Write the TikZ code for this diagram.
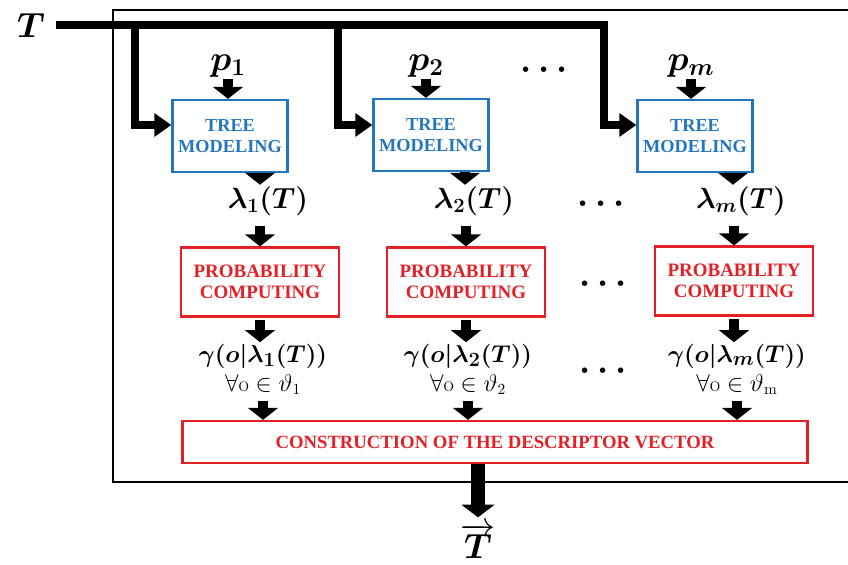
\documentclass[tikz,border=0pt]{standalone}
\usepackage{bm}
\usepackage{fontspec}
\newfontfamily\boxfont{Liberation Serif}
\usetikzlibrary{arrows.meta,positioning}

\definecolor{treeBlue}{RGB}{35,118,190}
\definecolor{probRed}{RGB}{228,32,38}

\newcommand{\setfs}[1]{\fontsize{#1}{#1}\selectfont}

\tikzstyle{treeBlock} = [rectangle, draw=treeBlue, line width=1.6pt, text=treeBlue, align=center,
minimum width=2.875cm, minimum height=1.8cm, font={\boxfont\bfseries\fontsize{13}{14.5}\selectfont}]
\tikzstyle{probBlock} = [rectangle, draw=probRed, line width=1.6pt, text=probRed, align=center,
minimum width=3.95cm, minimum height=1.725cm, font={\boxfont\bfseries\fontsize{13.5}{14.5}\selectfont}]
\tikzstyle{vecBlock} = [probBlock, minimum width=15.625cm, minimum height=1.05cm,
font={\boxfont\bfseries\fontsize{13.3}{14.5}\selectfont}]
\tikzstyle{mathLbl} = [inner sep=1pt]
\tikzstyle{flow} = [draw, line width=7pt, -{Triangle[width=21pt,length=8.5pt]}]
\tikzstyle{feed} = [draw, line width=5.5pt, line join=miter, -{Triangle[width=16pt,length=12pt]}]
\tikzstyle{outFlow} = [draw, line width=10pt, -{Triangle[width=23pt,length=9pt]}]
\tikzstyle{frame} = [draw, line width=2pt]

\begin{document}
\begin{tikzpicture}[x=0.025cm, y=-0.025cm]
   \useasboundingbox (0,0) rectangle (848,565);

   % Outer frame
   \draw[frame] (848,10) -- (113,10) -- (113,482) -- (848,482);

   % Input tree
   \node[mathLbl, font=\setfs{29}] (T) at (31,25) {$\bm{T}$};

   % Tree modeling blocks
   \node[treeBlock] (tree1) at (230,136) {TREE\\MODELING};
   \node[treeBlock] (tree2) at (431,135) {TREE\\MODELING};
   \node[treeBlock] (treem) at (695,136) {TREE\\MODELING};

   % Parameters
   \node[mathLbl, font=\setfs{26}] (p1) at (228,66) {$\bm{p_1}$};
   \node[mathLbl, font=\setfs{26}] (p2) at (426,66) {$\bm{p_2}$};
   \node[mathLbl, font=\setfs{26}] (pm) at (691,66) {$\bm{p_m}$};
   \node[mathLbl, font=\setfs{24}] (dotsP) at (544,70) {$\bm{\cdots}$};

   % Column axes
   \coordinate (c1) at (260,0);
   \coordinate (c2) at (465,0);
   \coordinate (cm) at (733,0);

   % Models
   \node[mathLbl, font=\setfs{20}] (lam1) at (268,201) {$\bm{\lambda_1(T)}$};
   \node[mathLbl, font=\setfs{20}] (lam2) at (474,201) {$\bm{\lambda_2(T)}$};
   \node[mathLbl, font=\setfs{20}] (lamm) at (741,201) {$\bm{\lambda_m(T)}$};
   \node[mathLbl, font=\setfs{24}] (dotsL) at (601,204) {$\bm{\cdots}$};

   % Probability blocks
   \node[probBlock] (prob1) at (260,282) {PROBABILITY\\COMPUTING};
   \node[probBlock] (prob2) at (466,282) {PROBABILITY\\COMPUTING};
   \node[probBlock] (probm) at (734,281) {PROBABILITY\\COMPUTING};
   \node[mathLbl, font=\setfs{24}] (dotsC) at (603,284) {$\bm{\cdots}$};

   % Probabilities
   \node[mathLbl, font=\setfs{19}] (gam1) at (263,356) {$\bm{\gamma(o|\lambda_1(T))}$};
   \node[mathLbl, font=\setfs{19}] (gam2) at (468,356) {$\bm{\gamma(o|\lambda_2(T))}$};
   \node[mathLbl, font=\setfs{19}] (gamm) at (737,356) {$\bm{\gamma(o|\lambda_m(T))}$};
   \node[mathLbl, font=\setfs{16}, below=2pt of gam1] (all1) {$\forall\mathrm{o}\in\vartheta_1$};
   \node[mathLbl, font=\setfs{16}, below=2pt of gam2] (all2) {$\forall\mathrm{o}\in\vartheta_2$};
   \node[mathLbl, font=\setfs{16}, below=2pt of gamm] (allm) {$\forall\mathrm{o}\in\vartheta_{\mathrm{m}}$};
   \node[mathLbl, font=\setfs{24}] (dotsG) at (603,371) {$\bm{\cdots}$};

   % Descriptor vector
   \node[vecBlock] (vec) at (495,442) {CONSTRUCTION OF THE DESCRIPTOR VECTOR};
   \node[mathLbl, font=\setfs{26}] (Tvec) at (478,541) {$\overrightarrow{\bm{T}}$};

   %% Lines

   \draw[feed, shorten <=7pt] (T.east) -- (T.east -| 604,0) |- ([yshift=0.275cm]treem.west);
   \draw[feed] (T.east -| 135,0) |- ([yshift=0.275cm]tree1.west);
   \draw[feed] (T.east -| 338,0) |- ([yshift=0.25cm]tree2.west);

   \path[flow] (p1.south) -- (p1.south |- tree1.north);
   \path[flow] (p2.south) -- (p2.south |- tree2.north);
   \path[flow] (pm.south) -- (pm.south |- treem.north);

   \path[flow] (c1 |- tree1.south) -- (c1 |- lam1.north);
   \path[flow] (c2 |- tree2.south) -- (c2 |- lam2.north);
   \path[flow] (cm |- treem.south) -- (cm |- lamm.north);

   \path[flow, shorten <=6pt] (prob1.north |- lam1.south) -- (prob1.north);
   \path[flow, shorten <=6pt] (prob2.north |- lam2.south) -- (prob2.north);
   \path[flow, shorten <=6pt] (probm.north |- lamm.south) -- (probm.north);

   \path[flow, shorten <=2pt] (prob1.south) -- (prob1.south |- gam1.north);
   \path[flow, shorten <=2pt] (prob2.south) -- (prob2.south |- gam2.north);
   \path[flow, shorten <=2pt] (probm.south) -- (probm.south |- gamm.north);

   \path[flow, shorten <=3pt] (all1.south) -- (all1.south |- vec.north);
   \path[flow, shorten <=3pt] (all2.south) -- (all2.south |- vec.north);
   \path[flow, shorten <=3pt] (allm.south) -- (allm.south |- vec.north);

   \path[outFlow, shorten >=3pt] (vec.south -| Tvec.north) -- (Tvec.north);

\end{tikzpicture}
\end{document}
